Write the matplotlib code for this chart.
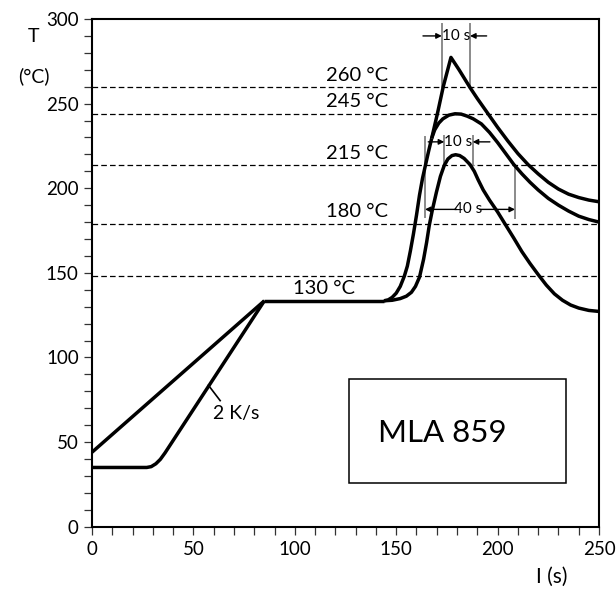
import matplotlib
matplotlib.use("Agg")
import matplotlib.pyplot as plt
from matplotlib.patches import Rectangle
from matplotlib.ticker import MultipleLocator

plt.rcParams['font.family'] = ['Lato', 'DejaVu Sans']

# ---------------- data ----------------
# shared preheat (linear from 44 C) for the upper curve
t_pre_lin = [0, 85]
T_pre_lin = [44, 133.5]
# shared preheat (flat 35 C then ~2 K/s ramp)
t_pre_ramp = [0, 27, 29.2, 31.5, 33.7, 36, 85]
T_pre_ramp = [35, 35, 35.5, 37.2, 39.8, 43.6, 133.5]
# plateau
t_plateau = [85, 144]
T_plateau = [133.5, 133.5]
# steep rise shared by curves A and B
t_rise_ab = [144, 146, 148, 150, 152, 154, 155.5, 157, 158.5, 160, 161.5,
             163, 164.5, 166, 167.5]
T_rise_ab = [133.5, 134, 135.5, 138, 142, 148, 154, 163, 173, 184, 196,
             206, 214, 222, 229.5]
# curve A (peak ~277 C)
t_a = [167.5, 170.4, 173.2, 177, 181, 186.4, 190, 195, 200, 205, 210, 215,
       220, 225, 230, 235, 240, 245, 250]
T_a = [229.5, 244.5, 260, 277.3, 270, 259.5, 253, 244.5, 236, 228, 220.5,
       214, 208.5, 203.5, 199.5, 196.5, 194.5, 193, 192]
# curve B (peak ~244 C)
t_b = [167.5, 169, 171, 173, 176, 179, 182, 185, 188, 192, 196, 200, 204,
       208, 212, 216, 220, 225, 230, 235, 240, 245, 250]
T_b = [229.5, 234.5, 238.5, 241, 243.2, 244, 243.8, 242.6, 241, 238, 233,
       227, 220.5, 214, 208.5, 203.5, 199, 194, 190, 186.5, 183.5, 181.5, 180]
# curve C (peak ~220 C)
t_c = [144, 148, 152, 155, 157.5, 159.5, 161.5, 163.5, 165, 166.3, 167.8,
       169.8, 171.8, 173.7, 175.5, 177.5, 179.3, 181.3, 183.5, 186.4, 188.5,
       190.4, 192.9, 196, 200, 203.6, 208, 212, 216, 220, 224, 228, 232,
       236, 240, 245, 250]
T_c = [133.5, 133.8, 134.8, 136.2, 138.5, 142, 147.5, 158, 168, 178, 187,
       197.5, 207, 213.5, 217.3, 219.3, 219.8, 219.3, 217.6, 214, 210,
       205, 199, 193, 186, 179, 170.5, 162.5, 155.5, 149, 142.8, 137.6, 133.8,
       131, 129.2, 127.8, 127.2]

# dashed reference levels
ref_levels = [260, 244, 214, 179, 148]
ref_labels = ["260 °C", "245 °C", "215 °C", "180 °C", None]
ref_label_T = [266.5, 251, 220.5, 186, None]

x_ticks = [0, 50, 100, 150, 200, 250]
y_ticks = [0, 50, 100, 150, 200, 250, 300]

# ---------------- figure ----------------
fig = plt.figure(figsize=(6.16, 5.91), dpi=100)
ax = fig.add_axes([92 / 616, 1 - 526.7 / 591, 507 / 616, 507.7 / 591])
ax.set_xlim(0, 250)
ax.set_ylim(0, 300)

for y in ref_levels:
    ax.axhline(y, color='black', lw=0.9, ls=(0, (4.5, 2.5)), zorder=1)
for lab, yt in zip(ref_labels, ref_label_T):
    if lab:
        ax.text(146, yt, lab, ha='right', va='center', fontsize=14.5)
ax.text(129.7, 140.8, "130 °C", ha='right', va='center', fontsize=14.5)

lw = 2.5
kw = dict(color='black', lw=lw, solid_capstyle='butt', solid_joinstyle='round', zorder=3)
ax.plot(t_pre_lin, T_pre_lin, **kw)
ax.plot(t_pre_ramp, T_pre_ramp, **kw)
ax.plot(t_plateau, T_plateau, **kw)
ax.plot(t_rise_ab, T_rise_ab, **kw)
ax.plot(t_a, T_a, **kw)
ax.plot(t_b, T_b, **kw)
ax.plot(t_c, T_c, **kw)

# 2 K/s leader
ax.plot([57.4, 63.2], [83.6, 74.5], color='black', lw=1.2)
ax.text(71.3, 67, "2 K/s", ha='center', va='center', fontsize=14)

# time-window annotations
gray = '#8a8a8a'
small = dict(ha='center', va='center', fontsize=11)
arr = dict(arrowstyle='-|>', color='black', lw=1.0, mutation_scale=8,
           shrinkA=0, shrinkB=0)

# top 10 s
for x in (172.5, 186.4):
    ax.plot([x, x], [260, 297], color=gray, lw=1.4, zorder=2)
ax.annotate("", xy=(172.5, 290), xytext=(163.2, 290), arrowprops=arr)
ax.annotate("", xy=(186.4, 290), xytext=(194.6, 290), arrowprops=arr)
ax.text(179.4, 290, "10 s", **small)

# middle 10 s
for x in (173.7, 187.7):
    ax.plot([x, x], [213.6, 231], color=gray, lw=1.4, zorder=2)
ax.annotate("", xy=(173.7, 227.4), xytext=(165.8, 227.4), arrowprops=arr)
ax.annotate("", xy=(187.7, 227.4), xytext=(196.2, 227.4), arrowprops=arr)
ax.text(180.7, 227.4, "10 s", **small)

# 40 s
ax.plot([164.2, 164.2], [183, 230], color=gray, lw=1.4, zorder=2)
ax.plot([208.6, 208.6], [182.7, 213.6], color=gray, lw=1.4, zorder=2)
ax.annotate("", xy=(164.2, 187.5), xytext=(179.8, 187.5), arrowprops=arr)
ax.annotate("", xy=(208.6, 187.5), xytext=(191.3, 187.5), arrowprops=arr)
ax.text(185.5, 187.5, "40 s", **small)

# MLA box
ax.add_patch(Rectangle((126.9, 25.6), 106.6, 61.6, fill=False, ec='black', lw=1.1))
ax.text(172.8, 55.2, "MLA 859", ha='center', va='center', fontsize=22.5)

# axes styling
for s in ax.spines.values():
    s.set_linewidth(1.5)
ax.set_xticks(x_ticks)
ax.set_yticks(y_ticks)
ax.xaxis.set_minor_locator(MultipleLocator(10))
ax.yaxis.set_minor_locator(MultipleLocator(10))
ax.tick_params(which='both', direction='out', length=6, width=0.9, color='#333333',
               top=False, right=False, labelsize=13.5)
ax.tick_params(axis='y', pad=3.5)
ax.tick_params(axis='x', pad=4.5)

fig.text(34 / 616, 1 - 36.5 / 591, "T", ha='center', va='center', fontsize=14)
fig.text(34 / 616, 1 - 76 / 591, "(°C)", ha='center', va='center', fontsize=14)
fig.text(552 / 616, 1 - 576.7 / 591, "I (s)", ha='center', va='center', fontsize=15)

fig.savefig("out.png", dpi=100)
